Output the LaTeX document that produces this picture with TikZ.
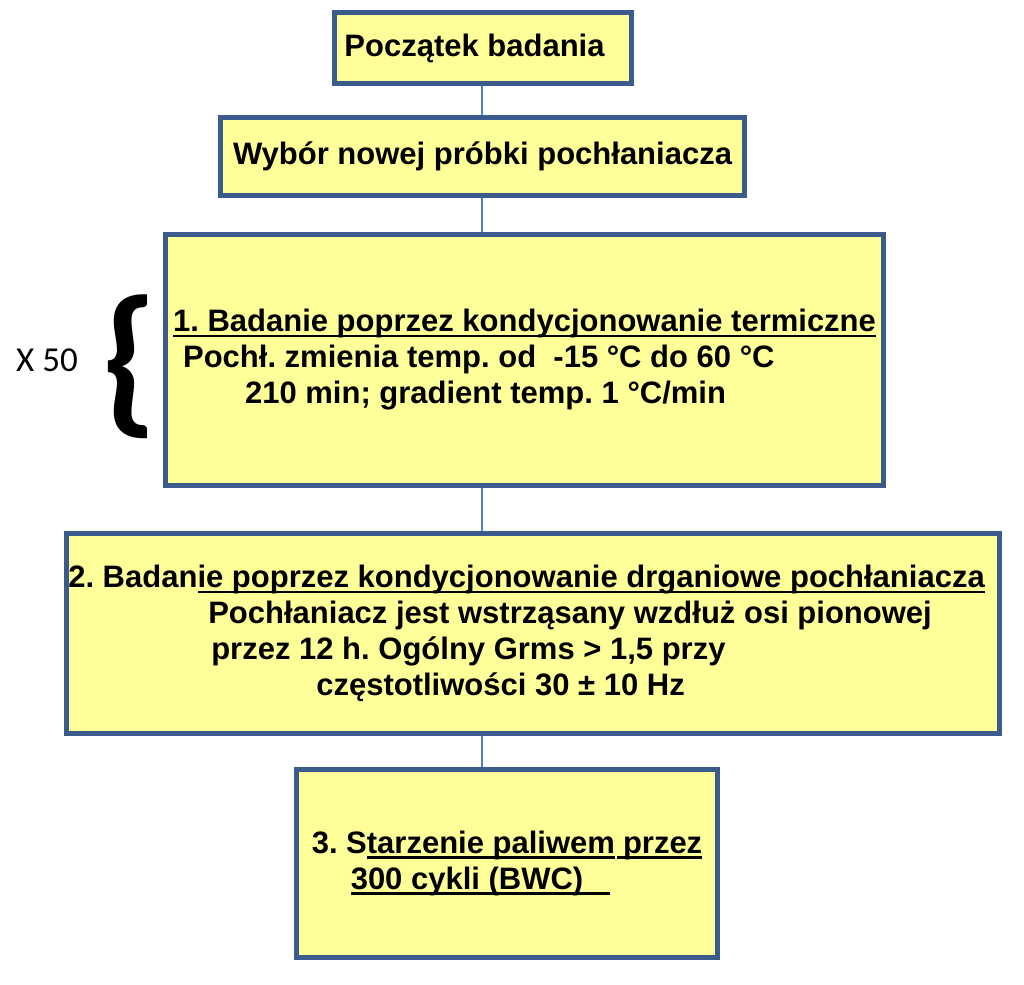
\documentclass[tikz,border=0pt]{standalone}
\usepackage{fontspec}
\setmainfont{Liberation Sans}
\newfontfamily\calibri{Carlito}
\definecolor{boxfill}{HTML}{FFFF99}
\definecolor{boxline}{HTML}{3B5B8C}
\definecolor{linkblue}{HTML}{4F81BD}
\newcommand{\undr}[1]{\setbox0\hbox{#1}\rlap{\rule[-5.5pt]{\wd0}{2.6pt}}\box0}
\frenchspacing

\begin{document}
\begin{tikzpicture}[x=1pt,y=-1pt,
    stage/.style={draw=boxline,line width=5pt,fill=boxfill,inner sep=0pt,align=left,
      font=\fontsize{31}{36}\selectfont\bfseries},
    link/.style={draw=linkblue,line width=1.5pt}]
  \useasboundingbox (0,0) rectangle (1024,984);
  \node[stage,minimum width=297pt,minimum height=71pt] (start) at (483,48) {Początek badania\hspace*{17pt}};
  \node[stage,minimum width=524pt,minimum height=78pt] (pick) at (482.5,156.5) {Wybór nowej próbki pochłaniacza};
  \node[stage,minimum width=718pt,minimum height=251pt] (therm) at (524.5,360) {\undr{1. Badanie poprzez kondycjonowanie termiczne}\\
    \hspace*{10pt}Pochł. zmienia temp. od\ \ -15 °C do 60 °C\\
    \hspace*{72pt}210 min; gradient temp. 1 °C/min};
  \node[stage,minimum width=933pt,minimum height=200pt] (vib) at (533,633.5) {2. Badan\undr{ie poprzez kondycjonowanie drganiowe pochłaniacza}\hspace*{13pt}\\
    \hspace*{140pt}Pochłaniacz jest wstrząsany wzdłuż osi pionowej\\
    \hspace*{143pt}przez 12 h. Ogólny Grms > 1,5 przy\\
    \hspace*{248pt}częstotliwości 30 ± 10 Hz};
  \node[stage,minimum width=421pt,minimum height=188pt] (aging) at (507,863.5) {3. S\undr{tarzenie paliwem}\hspace*{2pt}\undr{\hspace*{6pt}przez}\\
    \hspace*{39pt}\undr{300 cykli (BWC)\hspace*{27pt}}};
  \coordinate (axis) at (482,0);
  \draw[link] (start.south -| axis) -- (pick.north -| axis);
  \draw[link] (pick.south -| axis) -- (therm.north -| axis);
  \draw[link] (therm.south -| axis) -- (vib.north -| axis);
  \draw[link] (vib.south -| axis) -- (aging.north -| axis);
  % repeat count for step 1
  \node[font=\calibri\fontsize{35}{40}\selectfont] (reps) at (47,360) {X 50};
  \node[font=\calibri\bfseries\fontsize{164}{164}\selectfont,inner sep=0pt] (brace) at (130,367) {\{};
\end{tikzpicture}
\end{document}
